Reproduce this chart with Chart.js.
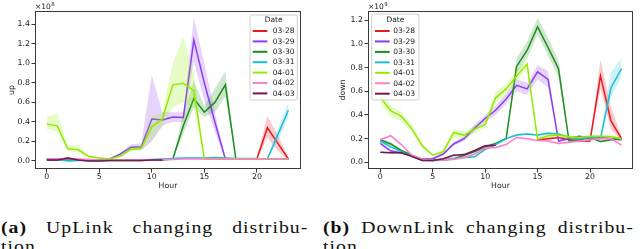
<!DOCTYPE html>
<html><head><meta charset="utf-8">
<script src="https://cdn.jsdelivr.net/npm/chart.js@4.4.1/dist/chart.umd.min.js"></script>
<style>
html,body{margin:0;padding:0;background:#fff;width:640px;height:249px;overflow:hidden;position:relative;}
canvas{position:absolute;top:0;}
#cA{left:0;} #cB{left:320px;}
.cap{position:absolute;font-family:"Liberation Serif","Times New Roman",serif;font-size:17px;line-height:19px;color:#111;letter-spacing:0.9px;transform-origin:0 0;transform:scaleX(1.16);white-space:nowrap;}
.l1{display:flex;justify-content:space-between;}
</style></head><body>
<canvas id="cA" width="320" height="200"></canvas>
<canvas id="cB" width="320" height="200"></canvas>
<div class="cap" style="left:1px;top:218px;width:265px"><div class="l1"><span><b>(a)</b></span><span>UpLink</span><span>changing</span><span>distribu-</span></div><div>tion.</div></div>
<div class="cap" style="left:323px;top:218px;width:268px"><div class="l1"><span><b>(b)</b></span><span>DownLink</span><span>changing</span><span>distribu-</span></div><div>tion.</div></div>
<script>
const hours = [0,1,2,3,4,5,6,7,8,9,10,11,12,13,14,15,16,17,18,19,20,21,22,23];
const dates = ['03-28','03-29','03-30','03-31','04-01','04-02','04-03'];
const colors = ['#e6191e','#8c3cf0','#1e8c1e','#19bed7','#91eb00','#ff80cc','#731a50'];
const xTicks = [0,5,10,15,20];
const upTicks = [0.0,0.2,0.4,0.6,0.8,1.0,1.2,1.4];
const downTicks = [0.0,0.2,0.4,0.6,0.8,1.0,1.2];
const N = null;

// UpLink (x1e8)
const upMean0328 = [N,N,N,N,N,N,N,N,N,N,N,N,N,N,N,0.02,0.02,0.02,0.02,0.02,0.02,0.34,0.18,0.02];
const upLo0328   = [N,N,N,N,N,N,N,N,N,N,N,N,N,N,N,0.015,0.015,0.015,0.015,0.015,0.01,0.24,0.10,0.01];
const upHi0328   = [N,N,N,N,N,N,N,N,N,N,N,N,N,N,N,0.025,0.025,0.025,0.025,0.025,0.03,0.46,0.27,0.03];

const upMean0329 = [0.02,0.02,0.02,0.01,0.01,0.01,0.02,0.07,0.14,0.145,0.43,0.42,0.45,0.445,1.24,0.80,0.40,0.02,0.02,0.02,0.02,0.02,0.02,0.02];
const upLo0329   = [0.01,0.01,0.01,0.005,0.005,0.005,0.01,0.05,0.11,0.11,0.20,0.36,0.40,0.40,1.02,0.62,0.30,0.01,0.015,0.015,0.015,0.015,0.015,0.015];
const upHi0329   = [0.03,0.03,0.03,0.015,0.015,0.015,0.03,0.09,0.17,0.18,0.88,0.50,0.50,0.50,1.47,1.00,0.50,0.03,0.025,0.025,0.025,0.025,0.025,0.025];

const upMean0330 = [0.01,0.01,0.01,0.01,0.005,0.005,0.005,0.005,0.005,0.005,0.01,0.01,0.02,0.36,0.64,0.50,0.60,0.78,0.02,0.02,0.02,0.02,0.02,0.02];
const upLo0330   = [0.005,0.005,0.005,0.005,0.0,0.0,0.0,0.0,0.0,0.0,0.005,0.005,0.015,0.28,0.55,0.45,0.50,0.66,0.015,0.015,0.015,0.015,0.015,0.015];
const upHi0330   = [0.015,0.015,0.015,0.015,0.01,0.01,0.01,0.01,0.01,0.01,0.015,0.015,0.025,0.48,0.82,0.56,0.74,0.92,0.025,0.025,0.025,0.025,0.025,0.025];

const upMean0331 = [0.02,0.015,0.0,0.005,0.005,0.005,0.01,0.01,0.01,0.01,0.015,0.02,0.025,0.03,0.03,0.03,0.035,0.03,0.025,0.025,0.025,0.02,0.27,0.52];
const upLo0331   = [0.015,0.01,-0.005,0.0,0.0,0.0,0.005,0.005,0.005,0.005,0.01,0.015,0.02,0.025,0.025,0.025,0.03,0.025,0.02,0.02,0.02,0.015,0.20,0.45];
const upHi0331   = [0.025,0.02,0.005,0.01,0.01,0.01,0.015,0.015,0.015,0.015,0.02,0.025,0.03,0.035,0.035,0.035,0.04,0.035,0.03,0.03,0.03,0.025,0.33,0.60];

const upMean0401 = [0.38,0.36,0.125,0.115,0.045,0.03,0.02,0.05,0.12,0.13,0.35,0.43,0.78,0.795,0.72,0.02,0.02,0.02,0.02,0.02,0.02,0.02,0.02,0.02];
const upLo0401   = [0.33,0.30,0.10,0.09,0.03,0.02,0.01,0.03,0.10,0.11,0.22,0.35,0.55,0.60,0.55,0.01,0.01,0.01,0.01,0.01,0.01,0.01,0.01,0.01];
const upHi0401   = [0.45,0.49,0.16,0.17,0.06,0.04,0.03,0.07,0.15,0.16,0.45,0.50,1.00,1.27,0.90,0.03,0.03,0.03,0.03,0.03,0.03,0.03,0.03,0.03];

const upMean0402 = [0.02,0.02,0.025,0.02,0.015,0.01,0.01,0.01,0.01,0.01,0.01,0.015,0.015,0.02,0.02,0.02,0.02,0.02,0.02,0.02,0.02,0.02,0.02,0.02];
const upLo0402   = [0.012,0.012,0.017,0.012,0.007,0.002,0.002,0.002,0.002,0.002,0.002,0.007,0.007,0.012,0.012,0.012,0.012,0.012,0.012,0.012,0.012,0.012,0.012,0.012];
const upHi0402   = [0.028,0.028,0.033,0.028,0.023,0.018,0.018,0.018,0.018,0.018,0.018,0.023,0.023,0.028,0.028,0.028,0.028,0.028,0.028,0.028,0.028,0.028,0.028,0.028];

const upMean0403 = [0.01,0.01,0.03,0.01,0.0,0.0,0.005,0.005,0.005,0.005,0.01,0.01,N,N,N,N,N,N,N,N,N,N,N,N];
const upLo0403   = [0.004,0.004,0.015,0.004,-0.005,-0.005,0.0,0.0,0.0,0.0,0.004,0.004,N,N,N,N,N,N,N,N,N,N,N,N];
const upHi0403   = [0.016,0.016,0.045,0.016,0.005,0.005,0.01,0.01,0.01,0.01,0.016,0.016,N,N,N,N,N,N,N,N,N,N,N,N];

// DownLink (x1e9)
const downMean0328 = [N,N,N,N,N,N,N,N,N,N,N,N,N,N,N,0.19,0.20,0.21,0.19,0.18,0.18,0.73,0.35,0.20];
const downLo0328   = [N,N,N,N,N,N,N,N,N,N,N,N,N,N,N,0.18,0.19,0.20,0.18,0.17,0.17,0.62,0.28,0.18];
const downHi0328   = [N,N,N,N,N,N,N,N,N,N,N,N,N,N,N,0.20,0.21,0.22,0.20,0.19,0.20,0.87,0.47,0.22];

const downMean0329 = [0.16,0.095,0.08,0.055,0.025,0.03,0.07,0.155,0.20,0.29,0.37,0.44,0.535,0.65,0.62,0.765,0.70,0.18,0.20,0.22,0.20,0.21,0.20,0.19];
const downLo0329   = [0.15,0.085,0.07,0.045,0.015,0.02,0.06,0.14,0.18,0.26,0.34,0.40,0.49,0.60,0.57,0.70,0.63,0.17,0.19,0.21,0.19,0.20,0.19,0.18];
const downHi0329   = [0.17,0.105,0.09,0.065,0.035,0.04,0.08,0.17,0.22,0.32,0.40,0.48,0.58,0.70,0.67,0.82,0.77,0.19,0.21,0.23,0.21,0.22,0.21,0.20];

const downMean0330 = [0.19,0.155,0.10,0.06,0.025,0.02,0.02,0.03,0.06,0.09,0.13,0.16,0.20,0.81,0.945,1.145,0.97,0.79,0.18,0.19,0.21,0.175,0.19,0.20];
const downLo0330   = [0.175,0.14,0.09,0.05,0.015,0.01,0.01,0.02,0.05,0.08,0.12,0.15,0.19,0.75,0.88,1.08,0.90,0.72,0.17,0.18,0.20,0.165,0.18,0.19];
const downHi0330   = [0.205,0.17,0.11,0.07,0.035,0.03,0.03,0.04,0.07,0.10,0.14,0.17,0.21,0.88,1.02,1.22,1.05,0.86,0.19,0.20,0.22,0.185,0.20,0.21];

const downMean0331 = [0.18,0.13,0.09,0.05,0.02,0.015,0.02,0.03,0.04,0.047,0.11,0.15,0.20,0.23,0.24,0.23,0.245,0.24,0.21,0.20,0.21,0.20,0.63,0.79];
const downLo0331   = [0.17,0.12,0.08,0.04,0.01,0.005,0.01,0.02,0.03,0.037,0.10,0.14,0.19,0.22,0.23,0.22,0.235,0.23,0.20,0.19,0.20,0.19,0.55,0.72];
const downHi0331   = [0.19,0.14,0.10,0.06,0.03,0.025,0.03,0.04,0.05,0.057,0.12,0.16,0.21,0.24,0.25,0.24,0.255,0.25,0.22,0.21,0.22,0.21,0.76,0.88];

const downMean0401 = [0.55,0.435,0.39,0.285,0.14,0.06,0.09,0.25,0.23,0.28,0.32,0.545,0.62,0.73,0.83,0.195,0.225,0.23,0.215,0.21,0.22,0.22,0.215,0.20];
const downLo0401   = [0.50,0.38,0.35,0.25,0.12,0.05,0.07,0.21,0.20,0.25,0.29,0.50,0.57,0.69,0.79,0.18,0.21,0.21,0.20,0.20,0.21,0.21,0.20,0.19];
const downHi0401   = [0.62,0.48,0.43,0.32,0.16,0.07,0.11,0.28,0.26,0.31,0.35,0.60,0.66,0.78,0.86,0.21,0.24,0.25,0.23,0.22,0.23,0.23,0.23,0.21];

const downMean0402 = [0.19,0.225,0.15,0.06,0.025,0.02,0.02,0.025,0.04,0.07,0.12,0.125,0.15,0.21,0.20,0.185,0.18,0.16,0.17,0.18,0.19,0.20,0.20,0.145];
const downLo0402   = [0.18,0.215,0.14,0.05,0.015,0.01,0.01,0.015,0.03,0.06,0.11,0.115,0.14,0.20,0.19,0.175,0.17,0.15,0.16,0.17,0.18,0.19,0.19,0.135];
const downHi0402   = [0.20,0.235,0.16,0.07,0.035,0.03,0.03,0.035,0.05,0.08,0.13,0.135,0.16,0.22,0.21,0.195,0.19,0.17,0.18,0.19,0.20,0.21,0.21,0.155];

const downMean0403 = [0.085,0.08,0.08,0.05,0.015,0.015,0.03,0.06,0.065,0.10,0.14,0.145,N,N,N,N,N,N,N,N,N,N,N,N];
const downLo0403   = [0.077,0.072,0.072,0.042,0.007,0.007,0.022,0.052,0.057,0.092,0.132,0.137,N,N,N,N,N,N,N,N,N,N,N,N];
const downHi0403   = [0.093,0.088,0.088,0.058,0.023,0.023,0.038,0.068,0.073,0.108,0.148,0.153,N,N,N,N,N,N,N,N,N,N,N,N];

const upSeries = [
  [upMean0328, upLo0328, upHi0328], [upMean0329, upLo0329, upHi0329], [upMean0330, upLo0330, upHi0330],
  [upMean0331, upLo0331, upHi0331], [upMean0401, upLo0401, upHi0401], [upMean0402, upLo0402, upHi0402],
  [upMean0403, upLo0403, upHi0403]];
const downSeries = [
  [downMean0328, downLo0328, downHi0328], [downMean0329, downLo0329, downHi0329], [downMean0330, downLo0330, downHi0330],
  [downMean0331, downLo0331, downHi0331], [downMean0401, downLo0401, downHi0401], [downMean0402, downLo0402, downHi0402],
  [downMean0403, downLo0403, downHi0403]];

function rgba(hex, a) {
  const n = parseInt(hex.slice(1), 16);
  return `rgba(${(n>>16)&255},${(n>>8)&255},${n&255},${a})`;
}
function pts(arr) { return hours.map((h, i) => ({x: h, y: arr[i]})); }

function buildDatasets(series) {
  const ds = [];
  series.forEach((s, i) => {
    const base = (series.length - 1 - i) * 3;
    ds.push({ data: pts(s[1]), borderWidth: 0, borderColor: 'transparent', pointRadius: 0, fill: false, order: base + 2 });
    ds.push({ data: pts(s[2]), borderWidth: 0, borderColor: 'transparent', pointRadius: 0, fill: '-1', backgroundColor: rgba(colors[i], 0.22), order: base + 1 });
    ds.push({ label: dates[i], data: pts(s[0]), borderWidth: 1.5, borderColor: colors[i], pointRadius: 0, fill: false, tension: 0, order: base });
  });
  return ds;
}

const TXT = '#1a1a1a';
const tickFont = { family: 'DejaVu Sans', size: 7.8 };

const framePlugin = {
  id: 'frame',
  afterDraw(chart, args, o) {
    const { ctx, chartArea: a } = chart;
    ctx.save();
    ctx.strokeStyle = '#3a3a3a'; ctx.lineWidth = 1;
    ctx.strokeRect(a.left + 0.5, a.top + 0.5, a.right - a.left - 1, a.bottom - a.top - 1);
    ctx.fillStyle = TXT; ctx.textBaseline = 'alphabetic'; ctx.textAlign = 'left';
    ctx.font = '7.5px "DejaVu Sans"';
    ctx.fillText('×10', a.left, 8.5);
    const w = ctx.measureText('×10').width;
    ctx.font = '5.4px "DejaVu Sans"';
    ctx.fillText(o.exp, a.left + w + 0.3, 5.5);
    const L = o.legend;
    ctx.beginPath();
    const r = 2;
    ctx.moveTo(L.x + r, L.y);
    ctx.arcTo(L.x + L.w, L.y, L.x + L.w, L.y + L.h, r);
    ctx.arcTo(L.x + L.w, L.y + L.h, L.x, L.y + L.h, r);
    ctx.arcTo(L.x, L.y + L.h, L.x, L.y, r);
    ctx.arcTo(L.x, L.y, L.x + L.w, L.y, r);
    ctx.closePath();
    ctx.fillStyle = 'rgba(255,255,255,0.85)'; ctx.fill();
    ctx.strokeStyle = '#cfcfcf'; ctx.lineWidth = 1; ctx.stroke();
    ctx.fillStyle = TXT; ctx.font = '7.5px "DejaVu Sans"';
    ctx.textAlign = 'center'; ctx.textBaseline = 'middle';
    ctx.fillText('Date', L.x + L.w / 2, L.titleY);
    ctx.textAlign = 'left';
    dates.forEach((d, i) => {
      const y = L.row0 + i * L.dy;
      ctx.strokeStyle = colors[i]; ctx.lineWidth = 2;
      ctx.beginPath(); ctx.moveTo(L.hx0, y); ctx.lineTo(L.hx1, y); ctx.stroke();
      ctx.fillStyle = TXT; ctx.fillText(d, L.tx, y + 0.3);
    });
    ctx.restore();
  }
};

function makeChart(id, series, o) {
  return new Chart(document.getElementById(id), {
    type: 'line',
    data: { datasets: buildDatasets(series) },
    plugins: [framePlugin],
    options: {
      responsive: false, animation: false, devicePixelRatio: 1,
      layout: { padding: { left: 0, right: o.padRight, top: 11, bottom: 0 } },
      plugins: { legend: { display: false }, tooltip: { enabled: false }, frame: { exp: o.exp, legend: o.legend } },
      scales: {
        x: {
          type: 'linear', min: o.xmin, max: o.xmax,
          afterBuildTicks: s => { s.ticks = xTicks.map(v => ({ value: v })); },
          afterFit: s => { s.height = 31; },
          grid: { drawOnChartArea: false, drawTicks: true, tickLength: 3.5, color: '#333' },
          border: { display: false },
          ticks: { font: tickFont, color: TXT, padding: 0, maxRotation: 0, callback: v => String(v) },
          title: { display: true, text: 'Hour', font: tickFont, color: TXT, padding: { top: 0, bottom: 9.6 } }
        },
        y: {
          type: 'linear', min: o.ymin, max: o.ymax,
          afterBuildTicks: s => { s.ticks = o.yTicks.map(v => ({ value: v })); },
          afterFit: s => { s.width = o.yWidth; },
          grid: { drawOnChartArea: false, drawTicks: true, tickLength: 3.5, color: '#333' },
          border: { display: false },
          ticks: { font: tickFont, color: TXT, padding: 1.5, callback: v => Number(v).toFixed(1) },
          title: { display: true, text: o.ytitle, font: tickFont, color: TXT, padding: { top: o.ytitlePad, bottom: 0 } }
        }
      }
    }
  });
}

makeChart('cA', upSeries, {
  padRight: 19, yWidth: 35, xmin: -1.12, xmax: 24.2, ymin: -0.082, ymax: 1.536,
  yTicks: upTicks, ytitle: 'up', ytitlePad: 7, exp: '8',
  legend: { x: 250, y: 15, w: 47.3, h: 85, titleY: 20.5, row0: 31, dy: 10.4, hx0: 252.7, hx1: 267.3, tx: 272.7 }
});
makeChart('cB', downSeries, {
  padRight: 7, yWidth: 48, xmin: -1.17, xmax: 24.1, ymin: -0.0566, ymax: 1.2787,
  yTicks: downTicks, ytitle: 'down', ytitlePad: 18.6, exp: '9',
  legend: { x: 51.7, y: 14, w: 47.3, h: 86, titleY: 20.5, row0: 31, dy: 10.45, hx0: 55, hx1: 69.7, tx: 73.3 }
});
</script>
</body></html>
